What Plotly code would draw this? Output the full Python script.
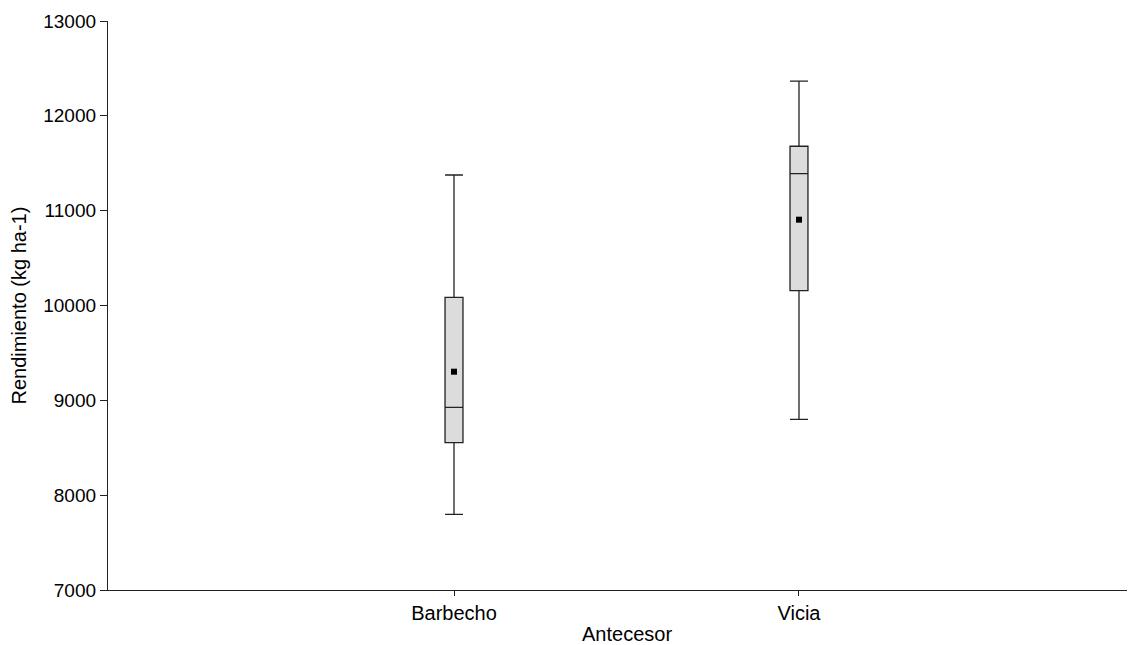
import plotly.graph_objects as go

categories = ["Barbecho", "Vicia"]
lower_whisker = [7798, 8800]
q1_vals = [8553, 10156]
median_vals = [8926, 11390]
q3_vals = [10086, 11679]
upper_whisker = [11376, 12367]
mean_vals = [9302, 10905]
y_ticks = [7000, 8000, 9000, 10000, 11000, 12000, 13000]
y_tick_labels = ["7000", "8000", "9000", "10000", "11000", "12000", "13000"]

font = "Liberation Sans, Arial, sans-serif"
axis_color = "#222222"

fig = go.Figure()
fig.add_trace(go.Box(
    x=categories,
    q1=q1_vals, median=median_vals, q3=q3_vals,
    lowerfence=lower_whisker, upperfence=upper_whisker,
    fillcolor="#dcdcdc",
    line=dict(color=axis_color, width=1.3),
    whiskerwidth=1,
    width=0.052,
    boxpoints=False,
    showlegend=False,
    hoverinfo="skip",
))
fig.add_trace(go.Scatter(
    x=categories, y=mean_vals, mode="markers",
    marker=dict(symbol="square", size=6, color="black"),
    showlegend=False, hoverinfo="skip",
))

fig.update_layout(
    width=1127, height=637,
    margin=dict(l=100, r=0, t=13, b=55),
    paper_bgcolor="white", plot_bgcolor="white",
    font=dict(family=font, size=20, color="black"),
    xaxis=dict(
        type="category", range=[-1.003, 1.974],
        showline=True, linecolor=axis_color, linewidth=1.3,
        ticks="outside", ticklen=5, tickcolor=axis_color,
        showgrid=False, zeroline=False, automargin=False,
        tickfont=dict(size=20),
    ),
    yaxis=dict(
        range=[7000, 13000], tickvals=y_ticks, ticktext=y_tick_labels,
        showline=True, linecolor=axis_color, linewidth=1.3,
        ticks="outside", ticklen=7, tickcolor=axis_color,
        showgrid=False, zeroline=False, automargin=False,
        tickfont=dict(size=19),
    ),
    annotations=[
        dict(text="Antecesor", xref="paper", yref="paper", x=0.505, y=0,
             xanchor="center", yanchor="middle", yshift=-44, showarrow=False,
             font=dict(size=20)),
        dict(text="Rendimiento (kg ha-1)", xref="paper", yref="paper", x=0, y=0.5,
             xanchor="center", yanchor="middle", xshift=-90, textangle=-90,
             showarrow=False, font=dict(size=20)),
    ],
)

fig.write_html("out.html")
